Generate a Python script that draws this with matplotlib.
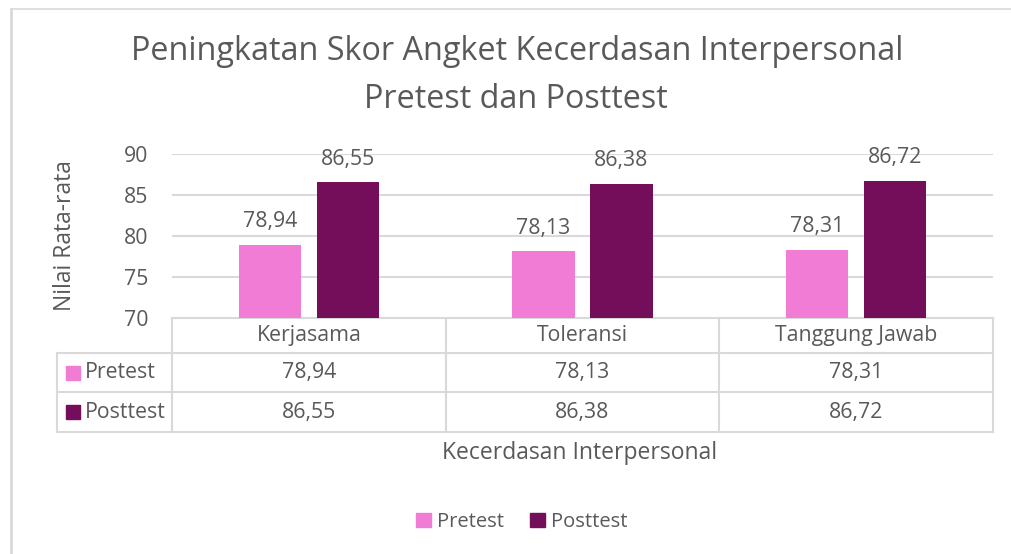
import matplotlib.pyplot as plt
import numpy as np

categories = ["Kerjasama", "Toleransi", "Tanggung Jawab"]
series_names = ["Pretest", "Posttest"]
pretest = [78.94, 78.13, 78.31]
posttest = [86.55, 86.38, 86.72]
yticks = [70, 75, 80, 85, 90]

PINK = "#F07CD6"
PURPLE = "#750E5A"
TXT = "#595959"
GRID = "#D9D9D9"

plt.rcParams['font.family'] = ['Open Sans', 'DejaVu Sans']
FS = 15.3

W, H = 1011, 554
fig = plt.figure(figsize=(W / 100, H / 100), dpi=100)

def fx(px):
    return px / W

def fy(py):
    return 1 - py / H

# chart frame (left and top edge only visible)
fig.add_artist(plt.Line2D([fx(11), fx(11)], [fy(9), 0], color=GRID, lw=2))
fig.add_artist(plt.Line2D([fx(11), 1], [fy(9), fy(9)], color=GRID, lw=1.2))

ax = fig.add_axes([fx(172), fy(318), fx(993) - fx(172), fy(154) - fy(318)])
x = np.arange(len(categories))
bw = 0.227
off = 0.1425

def label(v):
    return f"{v:.2f}".replace(".", ",")

for vals, col, d in [(pretest, PINK, -off), (posttest, PURPLE, off)]:
    ax.bar(x + d, np.array(vals) - 70, bottom=70, width=bw, color=col, zorder=3)
    for xi, v in zip(x + d, vals):
        ax.annotate(label(v), (xi, v), xytext=(0, 9), textcoords="offset points",
                    ha="center", va="bottom", fontsize=FS, color=TXT)

ax.set_xlim(-0.5, 2.5)
ax.set_ylim(70, 90)
ax.set_yticks(yticks)
ax.set_yticklabels([str(t) for t in yticks], fontsize=FS, color=TXT)
ax.tick_params(axis="y", length=0, pad=17)
ax.set_xticks([])
for s in ax.spines.values():
    s.set_visible(False)
for t in yticks[1:]:
    ax.axhline(t, color=GRID, lw=1.5, zorder=1)
ax.set_ylabel("Nilai Rata-rata", fontsize=16.5, color=TXT)
ax.yaxis.set_label_coords((77 - 172) / 821, 0.5)

# data table below plot
tr = ax.get_xaxis_transform()
axh = 164.0
rows = [0, -35 / axh, -74 / axh, -114 / axh]
left = -0.5 - 115 / 273.7
bounds = [-0.5, 0.5, 1.5, 2.5]
lk = dict(color=GRID, lw=1.5, transform=tr, clip_on=False)
ax.plot([-0.5, 2.5], [rows[0], rows[0]], **lk)
for r in rows[1:]:
    ax.plot([left, 2.5], [r, r], **lk)
for b in bounds:
    ax.plot([b, b], [rows[0], rows[3]], **lk)
ax.plot([left, left], [rows[1], rows[3]], **lk)

for i, c in enumerate(categories):
    ax.text(i, (rows[0] + rows[1]) / 2, c, transform=tr, ha="center", va="center",
            fontsize=FS, color=TXT)
for r, (name, vals, col) in enumerate(zip(series_names, [pretest, posttest], [PINK, PURPLE])):
    yc = (rows[r + 1] + rows[r + 2]) / 2
    for i, v in enumerate(vals):
        ax.text(i, yc, label(v), transform=tr, ha="center", va="center",
                fontsize=FS, color=TXT)
    ax.plot([left + 0.06], [yc], marker="s", ms=10, color=col, transform=tr, clip_on=False)
    ax.text(left + 0.1, yc, name, transform=tr, ha="left", va="center",
            fontsize=FS, color=TXT)

fig.text(fx(580), fy(453), "Kecerdasan Interpersonal", ha="center", va="center",
         fontsize=16.5, color=TXT)
fig.text(fx(517), fy(52), "Peningkatan Skor Angket Kecerdasan Interpersonal",
         ha="center", va="center", fontsize=23.3, color=TXT)
fig.text(fx(516), fy(99), "Pretest dan Posttest",
         ha="center", va="center", fontsize=23.3, color=TXT)

# legend
handles = [plt.Rectangle((0, 0), 1, 1, color=c) for c in [PINK, PURPLE]]
fig.legend(handles, series_names, loc="center", bbox_to_anchor=(fx(522), fy(522)),
           ncol=2, frameon=False, fontsize=14.5, labelcolor=TXT, handlelength=0.75,
           handleheight=0.75, handletextpad=0.3, columnspacing=1.3)

fig.savefig("out.png", dpi=100, facecolor="white")
